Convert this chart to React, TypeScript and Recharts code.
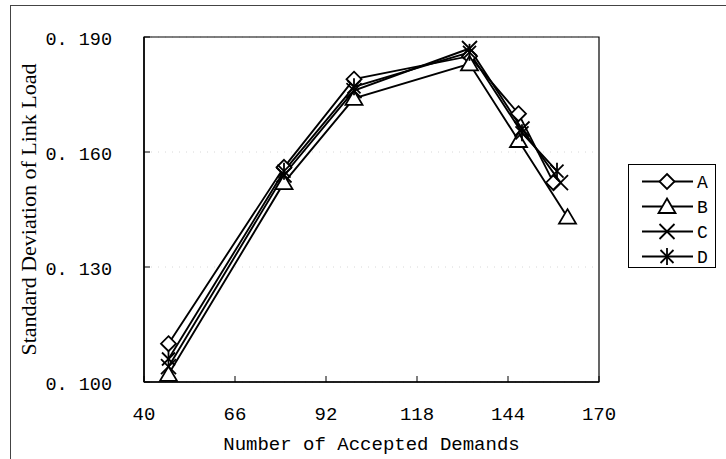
import React from 'react';
import {
  LineChart, Line, XAxis, YAxis, Legend, ReferenceArea, CartesianGrid,
} from 'recharts';

// accepted demands (x) and std deviation of link load (y) per scheme
const xA = [47, 80, 100, 133, 147, 157];
const yA = [0.110, 0.156, 0.179, 0.185, 0.170, 0.152];
const xB = [47, 80, 100, 133, 147, 161];
const yB = [0.102, 0.152, 0.174, 0.183, 0.163, 0.143];
const xC = [47, 80, 100, 133, 148, 159];
const yC = [0.104, 0.154, 0.176, 0.187, 0.166, 0.152];
const xD = [47, 80, 100, 133, 148, 158];
const yD = [0.106, 0.155, 0.177, 0.186, 0.165, 0.155];

const xTicks = [40, 66, 92, 118, 144, 170];
const yTicks = [0.1, 0.13, 0.16, 0.19];

const toRows = (xs: number[], ys: number[]) => xs.map((x, i) => ({ x, y: ys[i] }));

type Shape = 'diamond' | 'triangle' | 'cross' | 'star';

const series: { name: string; shape: Shape; data: { x: number; y: number }[] }[] = [
  { name: 'A', shape: 'diamond', data: toRows(xA, yA) },
  { name: 'B', shape: 'triangle', data: toRows(xB, yB) },
  { name: 'C', shape: 'cross', data: toRows(xC, yC) },
  { name: 'D', shape: 'star', data: toRows(xD, yD) },
];

const MONO = '"Liberation Mono", "DejaVu Sans Mono", monospace';
const SERIF = '"Liberation Serif", "DejaVu Serif", serif';

const Marker = ({ shape, cx, cy }: { shape: Shape; cx: number; cy: number }) => {
  const s = { stroke: '#000', strokeWidth: 1.8 };
  if (shape === 'diamond') {
    return (
      <polygon
        points={`${cx},${cy - 7.5} ${cx + 7.5},${cy} ${cx},${cy + 7.5} ${cx - 7.5},${cy}`}
        fill="#fff" {...s}
      />
    );
  }
  if (shape === 'triangle') {
    return (
      <polygon
        points={`${cx},${cy - 8} ${cx + 8.5},${cy + 6.5} ${cx - 8.5},${cy + 6.5}`}
        fill="#fff" {...s}
      />
    );
  }
  if (shape === 'cross') {
    return (
      <g {...s}>
        <line x1={cx - 7.5} y1={cy - 7.5} x2={cx + 7.5} y2={cy + 7.5} />
        <line x1={cx - 7.5} y1={cy + 7.5} x2={cx + 7.5} y2={cy - 7.5} />
      </g>
    );
  }
  return (
    <g {...s}>
      <line x1={cx - 6.5} y1={cy - 6.5} x2={cx + 6.5} y2={cy + 6.5} />
      <line x1={cx - 6.5} y1={cy + 6.5} x2={cx + 6.5} y2={cy - 6.5} />
      <line x1={cx} y1={cy - 8.5} x2={cx} y2={cy + 8.5} />
    </g>
  );
};

const makeDot = (shape: Shape) => (props: { cx?: number; cy?: number; index?: number }) => {
  const { cx, cy, index } = props;
  if (cx == null || cy == null) return <g key={index} />;
  return <Marker key={`${shape}-${index}`} shape={shape} cx={cx} cy={cy} />;
};

const YTick = (props: { x: number; y: number; payload: { value: number } }) => {
  const { x, y, payload } = props;
  const label = payload.value.toFixed(3).replace('.', '. ');
  return (
    <g>
      <line x1={x} y1={y} x2={x + 6} y2={y} stroke="#000" />
      <text x={x - 32} y={y + 2} dy="0.35em" textAnchor="end" fontFamily={MONO} fontSize={18.5} fill="#000">
        {label}
      </text>
    </g>
  );
};

const XTick = (props: { x: number; y: number; payload: { value: number } }) => {
  const { x, y, payload } = props;
  return (
    <g>
      <line x1={x} y1={y} x2={x} y2={y - 6} stroke="#000" />
      <text x={x} y={y + 31} dy="0.35em" textAnchor="middle" fontFamily={MONO} fontSize={19} fill="#000">
        {payload.value}
      </text>
    </g>
  );
};

const renderLegend = () => (
  <div style={{
    border: '1px solid #000', width: 88, height: 104, boxSizing: 'border-box',
    paddingTop: 4, background: '#fff',
  }}>
    {series.map(s => (
      <svg key={s.name} width={86} height={25} style={{ display: 'block' }}>
        <line x1={13} y1={12.5} x2={64} y2={12.5} stroke="#000" strokeWidth={1.8} />
        <Marker shape={s.shape} cx={38} cy={12.5} />
        <text x={68} y={12.5} dy="0.35em" fontFamily={MONO} fontSize={18} fill="#000">{s.name}</text>
      </svg>
    ))}
  </div>
);

export default function App() {
  return (
    <div style={{ position: 'absolute', left: 0, top: 0, width: 726, height: 459, background: '#fff', overflow: 'hidden' }}>
      <div style={{
        position: 'absolute', left: 10, top: 5, width: 740, height: 480,
        borderLeft: '1px solid #444', borderTop: '1px solid #444',
      }} />
      <LineChart
        width={726}
        height={459}
        margin={{ top: 37, right: 127, bottom: 0, left: 0 }}
        style={{ position: 'absolute', left: 0, top: 0 }}
      >
        <CartesianGrid vertical={false} stroke="#d8d8d8" strokeDasharray="1 6" />
        <XAxis
          type="number"
          dataKey="x"
          domain={[40, 170]}
          ticks={xTicks}
          allowDataOverflow
          height={77}
          tickSize={0}
          tickMargin={0}
          tickLine={false}
          axisLine={{ stroke: '#000', strokeWidth: 1.5 }}
          tick={XTick as any}
          label={{
            value: 'Number of Accepted Demands', position: 'insideBottom', offset: 9,
            style: { fontFamily: MONO, fontSize: 19, fill: '#000' },
          }}
        />
        <YAxis
          type="number"
          dataKey="y"
          domain={[0.1, 0.19]}
          ticks={yTicks}
          allowDataOverflow
          width={144}
          tickSize={0}
          tickMargin={0}
          tickLine={false}
          axisLine={{ stroke: '#000', strokeWidth: 1.5 }}
          tick={YTick as any}
          label={{
            value: 'Standard Deviation of Link Load', angle: -90, position: 'insideLeft', offset: 28,
            style: { fontFamily: SERIF, fontSize: 22, fill: '#000', textAnchor: 'middle' },
          }}
        />
        <ReferenceArea x1={40} x2={170} y1={0.1} y2={0.19} fill="none" stroke="#000" strokeWidth={1.2} />
        {series.map(s => (
          <Line
            key={s.name}
            name={s.name}
            data={s.data}
            dataKey="y"
            type="linear"
            stroke="#000"
            strokeWidth={1.9}
            dot={makeDot(s.shape) as any}
            activeDot={false}
            isAnimationActive={false}
          />
        ))}
        <Legend
          layout="vertical"
          align="center"
          verticalAlign="middle"
          content={renderLegend}
          wrapperStyle={{ position: 'absolute', left: 628, top: 164, width: 88, height: 104 }}
        />
      </LineChart>
    </div>
  );
}
